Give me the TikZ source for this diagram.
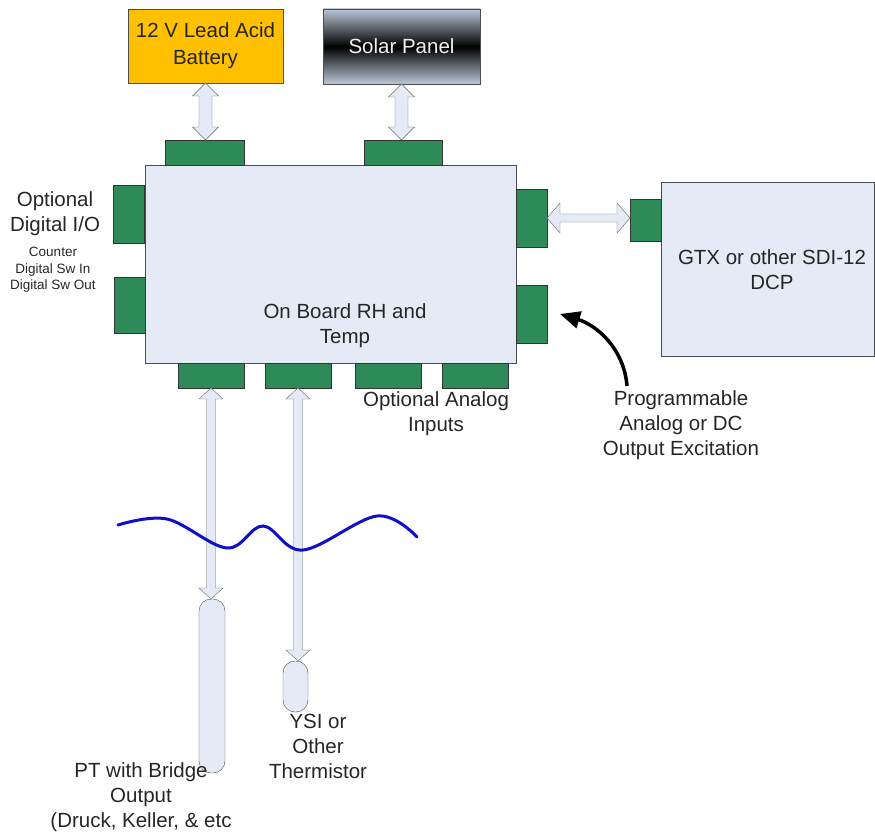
\documentclass[tikz,border=0pt]{standalone}
\usepackage{fontspec}
\setmainfont{Liberation Sans}
\usetikzlibrary{arrows.meta,calc}

\definecolor{boardfill}{RGB}{228,235,246}
\definecolor{portgreen}{RGB}{46,139,87}
\definecolor{battfill}{RGB}{255,192,0}
\definecolor{panelgray}{RGB}{188,200,216}
\definecolor{waterblue}{RGB}{15,15,200}

\tikzset{
  box/.style={draw=black!70, fill=boardfill, inner sep=0pt, outer sep=0pt},
  port/.style={draw=black!80, fill=portgreen, inner sep=0pt, outer sep=0pt},
  link/.style={draw=black!60, fill=boardfill},
  big/.style={font=\fontsize{20.5}{25}\selectfont, align=center, text=black!85},
  small/.style={font=\fontsize{13.5}{16.5}\selectfont, align=center, text=black!85}
}

% double block arrows: #1 first end, #2 second end, #3 half shaft, #4 half head, #5 head length
\newcommand{\vlink}[5]{%
  \draw[link] let \p1=(#1), \p2=(#2) in
    (\x1,\y1) -- (\x1+#4pt,\y1-#5pt) -- (\x1+#3pt,\y1-#5pt) -- (\x1+#3pt,\y2+#5pt)
    -- (\x1+#4pt,\y2+#5pt) -- (\x1,\y2) -- (\x1-#4pt,\y2+#5pt) -- (\x1-#3pt,\y2+#5pt)
    -- (\x1-#3pt,\y1-#5pt) -- (\x1-#4pt,\y1-#5pt) -- cycle;}
\newcommand{\hlink}[5]{%
  \draw[link] let \p1=(#1), \p2=(#2) in
    (\x1,\y1) -- (\x1+#5pt,\y1+#4pt) -- (\x1+#5pt,\y1+#3pt) -- (\x2-#5pt,\y1+#3pt)
    -- (\x2-#5pt,\y1+#4pt) -- (\x2,\y1) -- (\x2-#5pt,\y1-#4pt) -- (\x2-#5pt,\y1-#3pt)
    -- (\x1+#5pt,\y1-#3pt) -- (\x1+#5pt,\y1-#4pt) -- cycle;}

\begin{document}
\begin{tikzpicture}[x=1pt, y=-1pt]
    \useasboundingbox (0,0) rectangle (875,834);

    % Power sources
    \node[box, fill=battfill, minimum width=155pt, minimum height=74pt, big,
          font=\fontsize{20.5}{27}\selectfont] (battery) at (205.5,46) {12 V Lead Acid\\Battery};
    \node[box, top color=panelgray, bottom color=panelgray, middle color=black,
          minimum width=157pt, minimum height=75pt, big, text=white!88!gray] (solar) at (401.5,46.5) {Solar Panel};

    % Logger board and its ports
    \node[box, minimum width=371pt, minimum height=198pt] (board) at (330.5,264) {};
    \node[port, minimum width=79pt, minimum height=25pt] (battport) at (204.5,152.5) {};
    \node[port, minimum width=78pt, minimum height=25pt] (solarport) at (403,152.5) {};
    \node[port, minimum width=31pt, minimum height=58pt] (dioa) at (129,214) {};
    \node[port, minimum width=31pt, minimum height=56pt] (diob) at (130,305) {};
    \node[port, minimum width=31pt, minimum height=58pt] (outa) at (531.5,218) {};
    \node[port, minimum width=31pt, minimum height=58pt] (outb) at (531.5,314) {};
    \node[port, minimum width=66pt, minimum height=25pt] (ain1) at (211,375.5) {};
    \node[port, minimum width=66pt, minimum height=25pt] (ain2) at (298,375.5) {};
    \node[port, minimum width=66pt, minimum height=25pt] (ain3) at (388,375.5) {};
    \node[port, minimum width=66pt, minimum height=25pt] (ain4) at (475,375.5) {};
    \node[big] (boardlbl) at (345,326) {On Board RH and\\Temp};

    % SDI-12 recorder
    \node[box, minimum width=213pt, minimum height=174pt] (dcp) at (767.5,269) {};
    \node[port, minimum width=31pt, minimum height=42pt] (dcpport) at (645.5,220) {};
    \node[big] (dcplbl) at (772,270) {GTX or other SDI-12\\DCP};

    % Sensors in the water
    \node[box, rounded corners=12pt, minimum width=26pt, minimum height=174pt] (pt) at (212,686) {};
    \node[box, rounded corners=12pt, minimum width=25pt, minimum height=51pt] (ysi) at (295.5,686.5) {};

    % Links
    \vlink{battery.south}{battport.north}{6.5}{13}{13}
    \vlink{solar.south}{solarport.north}{6.5}{13}{13}
    \hlink{outa.east}{dcpport.west}{4}{15}{13}
    \vlink{ain1.south}{pt.north}{4.5}{12}{11}
    \vlink{ain2.south}{ysi.north}{4.5}{12}{11}

    % Water surface
    \draw[waterblue, line width=3pt, line cap=round] plot[smooth, tension=0.6] coordinates
        {(118,525) (167,519) (227,548) (263,526) (303,550) (377,516) (417,537)};

    % Labels
    \node[big] (diolbl) at (55,214) {Optional\\Digital I/O};
    \node[small] (diolist) at (53,270) {Counter\\Digital Sw In\\Digital Sw Out};
    \node[big] (ainlbl) at (436,414) {Optional Analog\\Inputs};
    \node[big] (prog) at (681,425) {Programmable\\Analog or DC\\Output Excitation};
    \node[big] (ysilbl) at (318,746) {YSI or\\Other\\Thermistor};
    \node[big] (ptlbl) at (141,797) {PT with Bridge\\Output\\(Druck, Keller, \& etc};

    % Excitation pointer
    \coordinate (progtail) at (627,386);
    \draw[line width=3.5pt, -{Triangle[length=20pt, width=17pt]}]
        (progtail) .. controls (624,348) and (596,325) .. ([xshift=13pt]outb.east);
\end{tikzpicture}
\end{document}
